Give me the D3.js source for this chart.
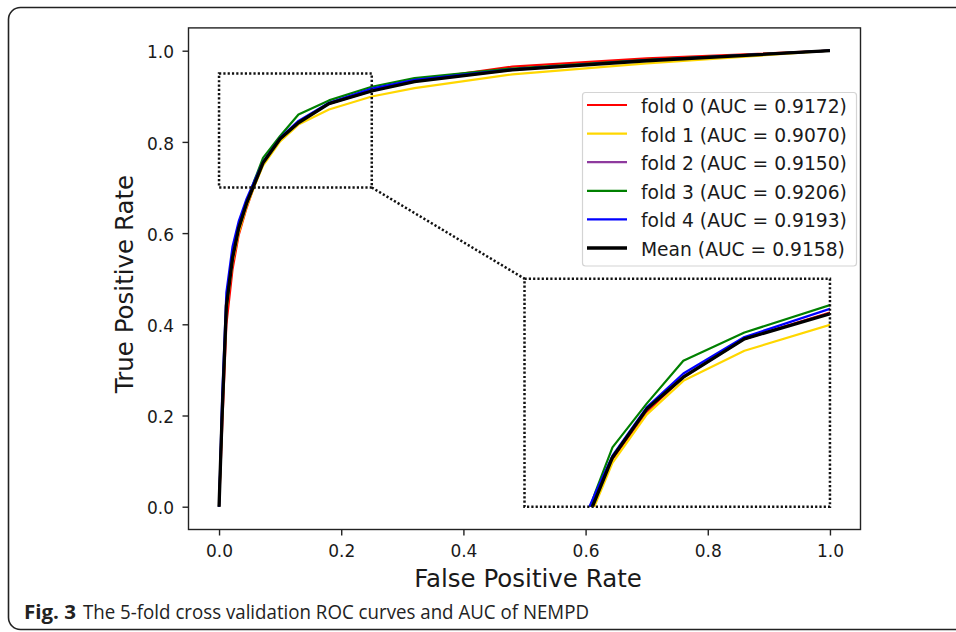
<!DOCTYPE html>
<html>
<head>
<meta charset="utf-8">
<script src="https://cdn.jsdelivr.net/npm/d3@7"></script>
<style>
  body { margin: 0; background: #fff; }
  svg text { font-family: "DejaVu Sans", sans-serif; fill: #1a1a1a; }
  .caption text { font-family: "Open Sans", "Noto Sans", sans-serif; fill: #222; }
</style>
</head>
<body>
<svg id="chart" width="956" height="632"></svg>
<script>
// ROC points (shared FPR grid, one TPR list per fold).
const fpr   = [0, 0.005, 0.012, 0.022, 0.032, 0.045, 0.058, 0.072, 0.1, 0.13, 0.18, 0.25, 0.32, 0.48, 0.7, 1.0];
const fold0 = [0, 0.17, 0.40, 0.52, 0.595, 0.655, 0.705, 0.752, 0.804, 0.842, 0.884, 0.913, 0.935, 0.965, 0.983, 1.0];
const fold1 = [0, 0.20, 0.43, 0.535, 0.600, 0.658, 0.703, 0.748, 0.801, 0.838, 0.871, 0.8995, 0.918, 0.948, 0.972, 1.0];
const fold2 = [0, 0.21, 0.44, 0.545, 0.610, 0.665, 0.710, 0.755, 0.806, 0.843, 0.884, 0.912, 0.933, 0.958, 0.979, 1.0];
const fold3 = [0, 0.20, 0.435, 0.545, 0.610, 0.665, 0.716, 0.765, 0.813, 0.860, 0.891, 0.921, 0.940, 0.961, 0.980, 1.0];
const fold4 = [0, 0.24, 0.47, 0.570, 0.625, 0.675, 0.715, 0.756, 0.809, 0.846, 0.886, 0.917, 0.936, 0.959, 0.979, 1.0];
const meanTpr = [0, 0.20, 0.44, 0.545, 0.610, 0.665, 0.708, 0.754, 0.807, 0.842, 0.884, 0.9116, 0.932, 0.958, 0.978, 1.0];

const seriesNames = ['fold 0', 'fold 1', 'fold 2', 'fold 3', 'fold 4', 'Mean'];
const aucValues = ['0.9172', '0.9070', '0.9150', '0.9206', '0.9193', '0.9158'];
const seriesColors = ['#ff0000', '#ffd700', '#8e3a9e', '#008000', '#0000ff', '#000000'];

const xTicks = [0, 0.2, 0.4, 0.6, 0.8, 1.0];
const yTicks = [0, 0.2, 0.4, 0.6, 0.8, 1.0];

// Zoomed region and where it is shown.
const zoomSrcX = [0, 0.25];
const zoomSrcY = [0.7, 0.95];
const zoomDstX = [0.5, 1.0];
const zoomDstY = [0, 0.5];

const svg = d3.select('#chart');

// Outer figure frame.
svg.append('rect')
  .attr('x', 8.5).attr('y', 7.5)
  .attr('width', 980).attr('height', 622)
  .attr('rx', 12)
  .attr('fill', 'none')
  .attr('stroke', '#222')
  .attr('stroke-width', 1.6);

const plot = { left: 188.5, right: 860.5, top: 27.9, bottom: 529.5 };

const x = d3.scaleLinear().domain([-0.05, 1.05]).range([plot.left, plot.right]);
const y = d3.scaleLinear().domain([-0.05, 1.05]).range([plot.bottom, plot.top]);

const series = [fold0, fold1, fold2, fold3, fold4, meanTpr].map((tpr, i) => ({
  name: seriesNames[i],
  auc: aucValues[i],
  color: seriesColors[i],
  width: i === 5 ? 3.3 : 2.2,
  points: fpr.map((f, j) => [f, tpr[j]])
}));

// Axes
const xAxis = svg.append('g')
  .attr('transform', `translate(0,${plot.bottom})`)
  .call(d3.axisBottom(x).tickValues(xTicks).tickFormat(d3.format('.1f')).tickSize(6).tickPadding(9.5));
const yAxis = svg.append('g')
  .attr('transform', `translate(${plot.left},0)`)
  .call(d3.axisLeft(y).tickValues(yTicks).tickFormat(d3.format('.1f')).tickSize(6).tickPadding(8.5));

[xAxis, yAxis].forEach(g => {
  g.select('.domain').remove();
  g.selectAll('line').attr('stroke', '#222').attr('stroke-width', 1.4);
  g.selectAll('text')
    .style('font-family', '"DejaVu Sans", sans-serif')
    .style('font-size', '17px')
    .attr('fill', '#1a1a1a');
});
yAxis.selectAll('text').attr('dy', '0.42em');

// Main curves
const line = d3.line().x(d => x(d[0])).y(d => y(d[1]));

svg.append('g')
  .selectAll('path')
  .data(series)
  .join('path')
  .attr('d', d => line(d.points))
  .attr('fill', 'none')
  .attr('stroke', d => d.color)
  .attr('stroke-width', d => d.width)
  .attr('stroke-linejoin', 'round');

// Inset: same curves, zoomed, clipped to the inset box.
const xi = d3.scaleLinear().domain(zoomSrcX).range([x(zoomDstX[0]), x(zoomDstX[1])]);
const yi = d3.scaleLinear().domain(zoomSrcY).range([y(zoomDstY[0]), y(zoomDstY[1])]);
const insetLine = d3.line().x(d => xi(d[0])).y(d => yi(d[1]));

svg.append('clipPath').attr('id', 'inset-clip')
  .append('rect')
  .attr('x', x(zoomDstX[0])).attr('y', y(zoomDstY[1]))
  .attr('width', x(zoomDstX[1]) - x(zoomDstX[0]))
  .attr('height', y(zoomDstY[0]) - y(zoomDstY[1]));

svg.append('g')
  .attr('clip-path', 'url(#inset-clip)')
  .selectAll('path')
  .data(series)
  .join('path')
  .attr('d', d => insetLine(d.points))
  .attr('fill', 'none')
  .attr('stroke', d => d.color)
  .attr('stroke-width', d => d.width)
  .attr('stroke-linejoin', 'round');

// Dotted boxes and connector
const dotted = g => g
  .attr('fill', 'none')
  .attr('stroke', '#111')
  .attr('stroke-width', 2.5)
  .attr('stroke-dasharray', '2.2 2.1');

svg.append('rect')
  .attr('x', x(zoomSrcX[0])).attr('y', y(zoomSrcY[1]))
  .attr('width', x(zoomSrcX[1]) - x(zoomSrcX[0]))
  .attr('height', y(zoomSrcY[0]) - y(zoomSrcY[1]))
  .call(dotted);

svg.append('rect')
  .attr('x', x(zoomDstX[0])).attr('y', y(zoomDstY[1]))
  .attr('width', x(zoomDstX[1]) - x(zoomDstX[0]))
  .attr('height', y(zoomDstY[0]) - y(zoomDstY[1]))
  .call(dotted);

svg.append('line')
  .attr('x1', x(zoomSrcX[1])).attr('y1', y(zoomSrcY[0]))
  .attr('x2', x(zoomDstX[0])).attr('y2', y(zoomDstY[1]))
  .call(dotted);

// Plot frame
svg.append('rect')
  .attr('x', plot.left).attr('y', plot.top)
  .attr('width', plot.right - plot.left)
  .attr('height', plot.bottom - plot.top)
  .attr('fill', 'none')
  .attr('stroke', '#222')
  .attr('stroke-width', 1.4);

// Axis labels
svg.append('text')
  .attr('x', 528).attr('y', 587)
  .attr('text-anchor', 'middle')
  .style('font-size', '24.5px')
  .text('False Positive Rate');

svg.append('text')
  .attr('transform', 'translate(133,284) rotate(-90)')
  .attr('text-anchor', 'middle')
  .style('font-size', '24.5px')
  .text('True Positive Rate');

// Legend
const legend = svg.append('g');
legend.append('rect')
  .attr('x', 582.5).attr('y', 92.5)
  .attr('width', 274).attr('height', 173.5)
  .attr('rx', 3)
  .attr('fill', '#fff')
  .attr('fill-opacity', 0.8)
  .attr('stroke', '#d4d4d4')
  .attr('stroke-width', 1.2);

const rows = legend.selectAll('g.row')
  .data(series)
  .join('g')
  .attr('class', 'row')
  .attr('transform', (d, i) => `translate(0,${105 + i * 28.6})`);

rows.append('line')
  .attr('x1', 587).attr('x2', 627)
  .attr('stroke', d => d.color)
  .attr('stroke-width', d => d.width);

rows.append('text')
  .attr('x', 641).attr('y', 8)
  .style('font-size', '18.7px')
  .text(d => `${d.name} (AUC = ${d.auc})`);

// Caption
const caption = svg.append('g').attr('class', 'caption');
caption.append('text')
  .attr('x', 24).attr('y', 619)
  .style('font-size', '20px')
  .style('font-weight', 'bold')
  .attr('textLength', 52)
  .attr('lengthAdjust', 'spacingAndGlyphs')
  .text('Fig. 3');
caption.append('text')
  .attr('x', 83).attr('y', 619)
  .style('font-size', '20px')
  .attr('textLength', 506)
  .attr('lengthAdjust', 'spacingAndGlyphs')
  .text('The 5-fold cross validation ROC curves and AUC of NEMPD');
</script>
</body>
</html>
